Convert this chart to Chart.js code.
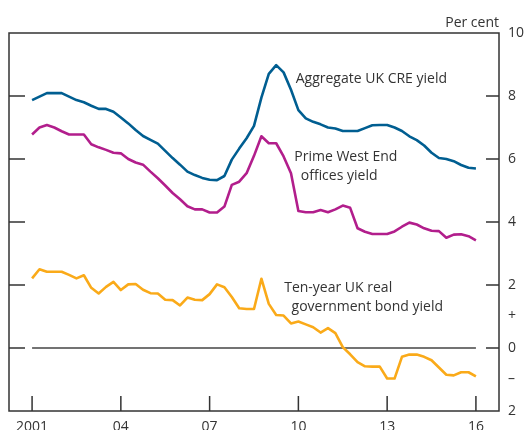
<!DOCTYPE html>
<html>
<head>
<meta charset="utf-8">
<script src="https://cdn.jsdelivr.net/npm/chart.js@4"></script>
<style>
  html, body { margin: 0; padding: 0; background: #fff; }
  #wrap { width: 525px; height: 430px; }
</style>
</head>
<body>
<div id="wrap"><canvas id="yield-chart" width="525" height="430"></canvas></div>
<script>
// quarterly observations, 2001 Q1 to 2016 Q1
const startYear = 2001;
const quarters = [];
for (let i = 0; i < 61; i++) quarters.push(startYear + i / 4);

const creYield = [7.87, 7.98, 8.09, 8.09, 8.09, 7.98, 7.87, 7.8, 7.69, 7.59,
  7.59, 7.5, 7.32, 7.13, 6.92, 6.73, 6.61, 6.49, 6.26, 6.03,
  5.82, 5.6, 5.49, 5.4, 5.34, 5.33, 5.46, 5.98, 6.33, 6.66,
  7.05, 7.95, 8.7, 8.98, 8.75, 8.2, 7.55, 7.29, 7.18, 7.1,
  7.0, 6.97, 6.89, 6.89, 6.89, 6.98, 7.07, 7.08, 7.08, 7.0,
  6.89, 6.72, 6.6, 6.43, 6.2, 6.03, 6.0, 5.93, 5.81, 5.72, 5.7];

const westEndYield = [6.78, 7.0, 7.08, 7.0, 6.88, 6.78, 6.78, 6.78, 6.47, 6.37,
  6.29, 6.2, 6.18, 6.0, 5.89, 5.82, 5.6, 5.39, 5.16, 4.92,
  4.72, 4.5, 4.4, 4.4, 4.3, 4.3, 4.49, 5.18, 5.28, 5.55,
  6.1, 6.72, 6.5, 6.5, 6.08, 5.55, 4.35, 4.31, 4.31, 4.38,
  4.31, 4.4, 4.52, 4.45, 3.8, 3.69, 3.62, 3.62, 3.62, 3.7,
  3.85, 3.98, 3.92, 3.8, 3.72, 3.71, 3.5, 3.6, 3.61, 3.55, 3.42];

const giltYield = [2.21, 2.5, 2.42, 2.42, 2.42, 2.32, 2.21, 2.31, 1.91, 1.73,
  1.94, 2.1, 1.84, 2.02, 2.03, 1.85, 1.74, 1.73, 1.53, 1.52,
  1.35, 1.6, 1.53, 1.52, 1.71, 2.02, 1.93, 1.62, 1.26, 1.24,
  1.24, 2.2, 1.4, 1.05, 1.03, 0.78, 0.84, 0.75, 0.66, 0.49,
  0.63, 0.47, 0.03, -0.2, -0.45, -0.58, -0.59, -0.59, -0.97, -0.97,
  -0.28, -0.21, -0.21, -0.28, -0.39, -0.62, -0.85, -0.87, -0.77, -0.77, -0.9];

const xTicks = [2001, 2004, 2007, 2010, 2013, 2016];
const yMarks = [8, 6, 4, 2, 0];

const labelText = [
  { text: 'Aggregate UK CRE yield', x: 2009.91, y: 8.53 },
  { text: 'Prime West End', x: 2009.86, y: 6.07 },
  { text: 'offices yield', x: 2010.08, y: 5.47 },
  { text: 'Ten-year UK real', x: 2009.52, y: 1.90 },
  { text: 'government bond yield', x: 2009.77, y: 1.29 }
];

const fontFamily = "'Open Sans', 'Noto Sans', sans-serif";
const ink = '#333333';

function pairs(vals) {
  return quarters.map((q, i) => ({ x: q, y: vals[i] }));
}

// frame, inward tick marks and in-chart labels
const decorations = {
  id: 'decorations',
  afterDatasetsDraw(chart) {
    const { ctx, chartArea: a, scales: { x, y } } = chart;
    ctx.save();
    ctx.strokeStyle = ink;
    ctx.lineWidth = 1.5;
    ctx.strokeRect(a.left, a.top, a.right - a.left, a.bottom - a.top);
    ctx.beginPath();
    yMarks.forEach(v => {
      const py = y.getPixelForValue(v);
      ctx.moveTo(a.left, py); ctx.lineTo(a.left + 16, py);
      ctx.moveTo(a.right - 13, py); ctx.lineTo(a.right, py);
    });
    xTicks.forEach(v => {
      const px = x.getPixelForValue(v);
      ctx.moveTo(px, a.bottom); ctx.lineTo(px, a.bottom - 15);
    });
    ctx.stroke();

    ctx.fillStyle = ink;
    ctx.font = '14px ' + fontFamily;
    ctx.textBaseline = 'middle';
    ctx.textAlign = 'left';
    labelText.forEach(l => {
      ctx.fillText(l.text, x.getPixelForValue(l.x), y.getPixelForValue(l.y));
    });
    ctx.textAlign = 'right';
    ctx.fillText('Per cent', a.right, a.top - 10);
    ctx.restore();
  }
};

const ctx = document.getElementById('yield-chart');

new Chart(ctx, {
  type: 'line',
  data: {
    datasets: [{
      label: 'Aggregate UK CRE yield',
      data: pairs(creYield),
      borderColor: 'rgb(0, 94, 145)'
    }, {
      label: 'Prime West End offices yield',
      data: pairs(westEndYield),
      borderColor: 'rgb(178, 30, 140)'
    }, {
      label: 'Ten-year UK real government bond yield',
      data: pairs(giltYield),
      borderColor: 'rgb(250, 170, 25)'
    }, {
      label: 'zero',
      data: [{ x: xTicks[0], y: 0 }, { x: xTicks[xTicks.length - 1], y: 0 }],
      borderColor: '#444444',
      borderWidth: 1.5
    }]
  },
  options: {
    responsive: false,
    animation: false,
    devicePixelRatio: 1,
    layout: { padding: { left: 9, top: 33, right: 0, bottom: 0 } },
    elements: {
      point: { radius: 0 },
      line: { borderWidth: 2.6, tension: 0, fill: false, borderJoinStyle: 'round' }
    },
    plugins: {
      legend: { display: false },
      tooltip: { enabled: false }
    },
    scales: {
      x: {
        type: 'linear',
        min: 2000.22,
        max: 2016.78,
        grid: { display: false, drawTicks: false },
        border: { display: false },
        afterBuildTicks: axis => { axis.ticks = xTicks.map(v => ({ value: v })); },
        afterFit: axis => { axis.height = 19; },
        ticks: {
          autoSkip: false,
          maxRotation: 0,
          padding: 8,
          color: ink,
          font: { family: fontFamily, size: 14 },
          callback: v => v === 2001 ? '2001' : String(v).slice(2)
        }
      },
      y: {
        position: 'right',
        min: -2,
        max: 10,
        grid: { display: false, drawTicks: false },
        border: { display: false },
        afterFit: axis => { axis.width = 26; },
        ticks: {
          stepSize: 1,
          autoSkip: false,
          padding: 9,
          color: ink,
          font: { family: fontFamily, size: 14 },
          callback: v => {
            if (v % 2 === 0) return String(Math.abs(v));
            if (v === 1) return '+';
            if (v === -1) return '\u2013';
            return '';
          }
        }
      }
    }
  },
  plugins: [decorations]
});
</script>
</body>
</html>
